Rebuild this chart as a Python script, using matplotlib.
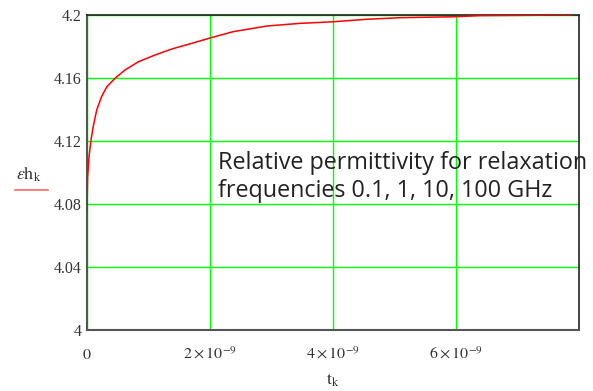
import numpy as np
import matplotlib; matplotlib.use("Agg")
import matplotlib.pyplot as plt

# values (t in ns, relative permittivity)
t_ns = [0, 0.01, 0.033, 0.065, 0.10, 0.158, 0.235, 0.32, 0.455, 0.618, 0.834, 1.106,
        1.377, 1.702, 2.0, 2.374, 2.922, 3.46, 4.0, 4.548, 5.09, 5.98, 6.39, 7.87]
eps = [4.076, 4.097, 4.110, 4.1206, 4.129, 4.1397, 4.148, 4.1543, 4.1598, 4.1651, 4.1703, 4.1746,
       4.1784, 4.182, 4.1854, 4.1894, 4.193, 4.1947, 4.1957, 4.1973, 4.1983, 4.1989, 4.1996, 4.2]
t = np.array(t_ns) * 1e-9
xticks = [0, 2e-9, 4e-9, 6e-9]
xtick_labels = ["$0$", r"$2\times10^{-9}$", r"$4\times10^{-9}$", r"$6\times10^{-9}$"]
yticks = [4.0, 4.04, 4.08, 4.12, 4.16, 4.2]
ytick_labels = ["4", "4.04", "4.08", "4.12", "4.16", "4.2"]

plt.rcParams.update({"mathtext.fontset": "stix", "font.family": "Liberation Serif"})
fig = plt.figure(figsize=(5.93, 3.91), dpi=100, facecolor="white")
ax = fig.add_axes([0.1467, 0.156, 0.8297, 0.8056])
ax.plot(t, eps, color="red", lw=1.1, zorder=3)
ax.set_xlim(0, 8e-9); ax.set_ylim(4.0, 4.2)
ax.set_xticks(xticks); ax.set_xticklabels(xtick_labels, fontsize=11.5, color="#333333")
ax.set_yticks(yticks); ax.set_yticklabels(ytick_labels, fontsize=11.5, color="#333333")
ax.tick_params(length=0, pad=12)
ax.tick_params(axis="y", pad=4)
ax.grid(True, color="#00ff00", lw=1, zorder=1)
for s in ("left", "bottom"):
    ax.spines[s].set_color("#555555"); ax.spines[s].set_linewidth(1.5)
for s in ("top", "right"):
    ax.spines[s].set_color("#222222"); ax.spines[s].set_linewidth(1.2)

fig.text(16 / 593, 1 - 174 / 391, r"$\varepsilon\mathrm{h}_\mathrm{k}$", fontsize=13,
         ha="left", va="center", color="#333333")
fig.add_artist(plt.Line2D([15 / 593, 48 / 593], [1 - 190 / 391] * 2, color="#ff6666", lw=1.2))
fig.text(333 / 593, 1 - 380 / 391, r"$\mathrm{t}_\mathrm{k}$", fontsize=13,
         ha="center", va="center", color="#333333")
fig.text(218 / 593, 1 - 177 / 391, "Relative permittivity for relaxation\nfrequencies 0.1, 1, 10, 100 GHz",
         fontsize=16.8, family="Open Sans", ha="left", va="center", linespacing=1.2, color="#222222")

fig.savefig("out.png", dpi=100, facecolor="white")
